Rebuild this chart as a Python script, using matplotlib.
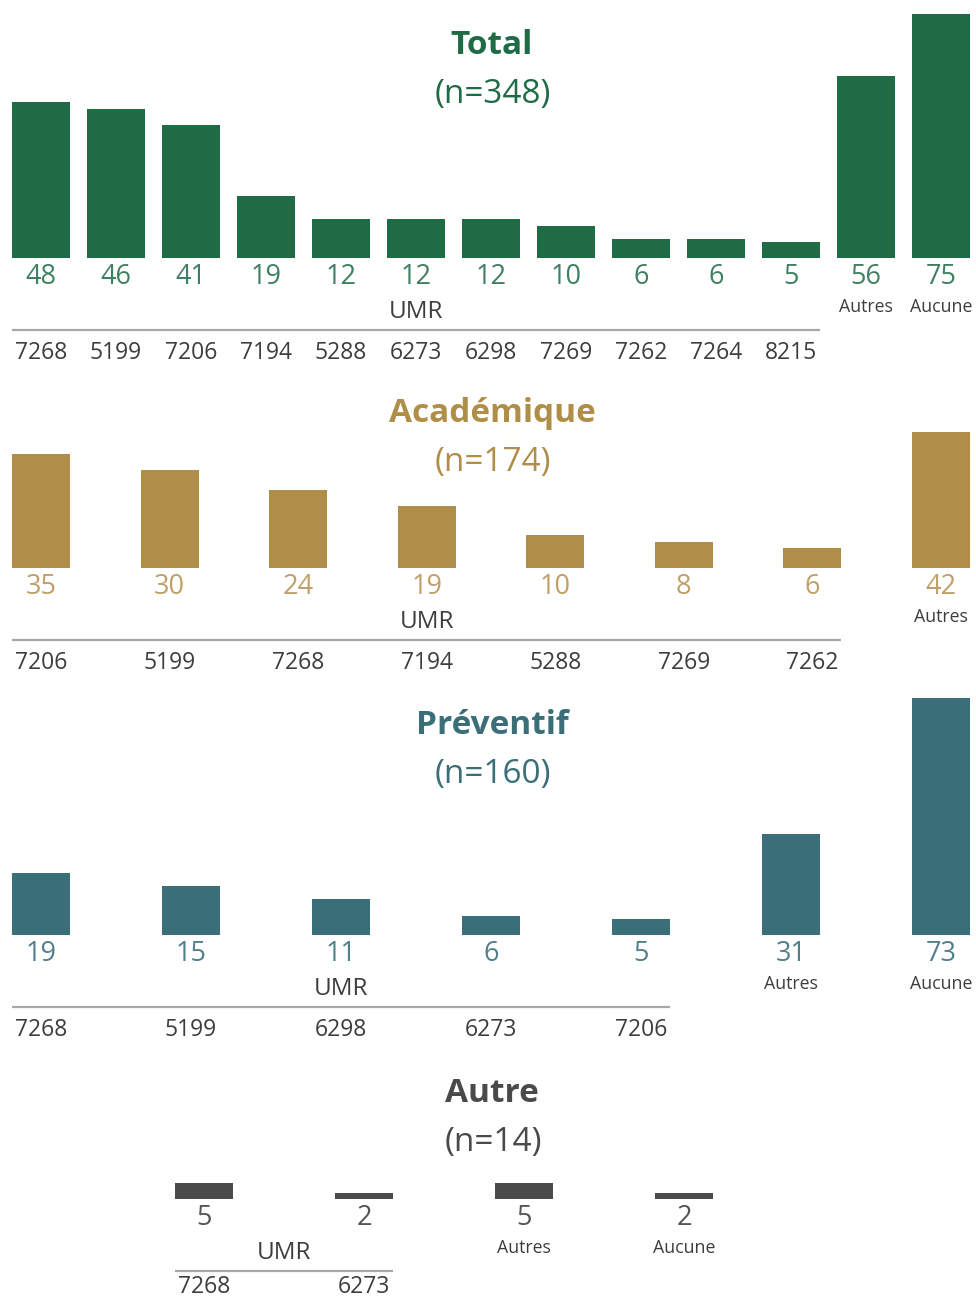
import matplotlib.pyplot as plt
from matplotlib.transforms import offset_copy
import numpy as np

plt.rcParams["font.family"] = ["Open Sans", "DejaVu Sans"]

# Data
total_umr = ["7268", "5199", "7206", "7194", "5288", "6273", "6298", "7269", "7262", "7264", "8215"]
total_umr_values = [48, 46, 41, 19, 12, 12, 12, 10, 6, 6, 5]
total_extra = ["Autres", "Aucune"]
total_extra_values = [56, 75]

acad_umr = ["7206", "5199", "7268", "7194", "5288", "7269", "7262"]
acad_umr_values = [35, 30, 24, 19, 10, 8, 6]
acad_extra = ["Autres"]
acad_extra_values = [42]

prev_umr = ["7268", "5199", "6298", "6273", "7206"]
prev_umr_values = [19, 15, 11, 6, 5]
prev_extra = ["Autres", "Aucune"]
prev_extra_values = [31, 73]

autre_umr = ["7268", "6273"]
autre_umr_values = [5, 2]
autre_extra = ["Autres", "Aucune"]
autre_extra_values = [5, 2]

W, H = 976, 1301
PX_PER_UNIT = 3.25
BAR_PX = 58
LABEL_GREY = "#3d3d3d"


def draw_panel(fig, base_px, top_px, c0, step, umr, umr_values, extra, extra_values,
               color, value_color, title, n, title_y, n_y, cat_dy=95):
    ax = fig.add_axes([0, 1 - base_px / H, 1, (base_px - top_px) / H])
    ax.axis("off")

    values = list(umr_values) + list(extra_values)
    x = np.arange(len(values))
    width = BAR_PX / step
    ax.bar(x, values, width=width, color=color, linewidth=0)
    ax.set_xlim(-c0 / step, (W - c0) / step)
    ax.set_ylim(0, (base_px - top_px) / PX_PER_UNIT)

    def below(dy):
        return offset_copy(ax.transData, fig=fig, x=0, y=-dy, units="dots")

    # values under bars
    for xi, v in zip(x, values):
        ax.text(xi, 0, str(v), transform=below(19), ha="center", va="center",
                fontsize=19.5, color=value_color)

    # UMR group
    k = len(umr)
    ax.plot([-width / 2, k - 1 + width / 2], [0, 0], transform=below(72),
            color="#a8a8a8", lw=1.6, clip_on=False, solid_capstyle="butt")
    ax.text((k - 1) / 2, 0, "UMR", transform=below(54), ha="center", va="center",
            fontsize=17.5, color=LABEL_GREY)
    for xi, lab in zip(x[:k], umr):
        ax.text(xi, 0, lab, transform=below(cat_dy), ha="center", va="center",
                fontsize=16.5, color=LABEL_GREY)

    # Autres / Aucune
    for xi, lab in zip(x[k:], extra):
        ax.text(xi, 0, lab, transform=below(49), ha="center", va="center",
                fontsize=12.8, color=LABEL_GREY)

    fig.text(492 / W, 1 - title_y / H, title, ha="center", va="center",
             fontsize=24, fontweight="bold", color=color)
    fig.text(493 / W, 1 - n_y / H, f"(n={n})", ha="center", va="center",
             fontsize=24, color=color)
    return ax


fig = plt.figure(figsize=(W / 100, H / 100), dpi=100)
fig.patch.set_facecolor("white")

draw_panel(fig, 258, 0, 41, 75, total_umr, total_umr_values, total_extra,
           total_extra_values, "#1f6b45", "#3f8060", "Total", 348, 45, 95)
draw_panel(fig, 568, 400, 41, 900 / 7, acad_umr, acad_umr_values, acad_extra,
           acad_extra_values, "#b08e48", "#bfa068", "Académique", 174, 414, 463)
draw_panel(fig, 935, 680, 41, 150, prev_umr, prev_umr_values, prev_extra,
           prev_extra_values, "#3a6e78", "#4f808b", "Préventif", 160, 725, 775)
draw_panel(fig, 1199, 1160, 204, 160, autre_umr, autre_umr_values, autre_extra,
           autre_extra_values, "#4a4a4a", "#555555", "Autre", 14, 1093, 1142,
           cat_dy=88)

fig.savefig("out.png", dpi=100)
